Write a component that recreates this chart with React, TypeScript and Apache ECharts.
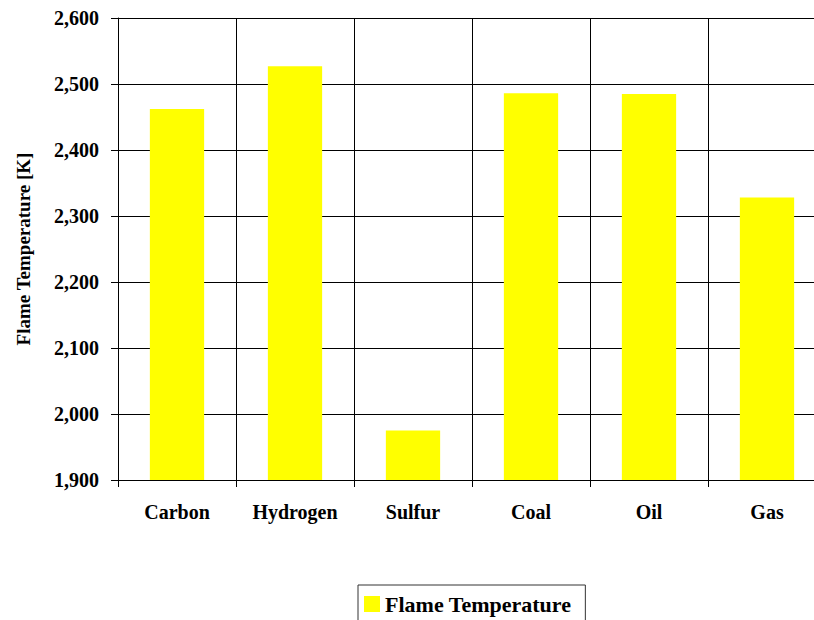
import React, { useEffect, useRef } from "react";
import * as echarts from "echarts";

const categories = ["Carbon", "Hydrogen", "Sulfur", "Coal", "Oil", "Gas"];
const flameTemperature = [2462, 2527, 1975, 2486, 2485, 2328];
const seriesName = "Flame Temperature";
const yAxisName = "Flame Temperature [K]";

const FONT = "'Liberation Serif', 'Times New Roman', serif";

export default function App() {
  const ref = useRef<HTMLDivElement>(null);
  useEffect(() => {
    if (!ref.current) return;
    const chart = echarts.init(ref.current, undefined, { renderer: "svg" });
    chart.setOption({
      animation: false,
      backgroundColor: "#ffffff",
      grid: { left: 118, top: 18, width: 708, height: 462, containLabel: false },
      legend: {
        data: [seriesName],
        left: 358,
        top: 585,
        icon: "rect",
        itemWidth: 16,
        itemHeight: 16,
        itemGap: 6,
        padding: [8, 14, 14, 6],
        borderColor: "#333",
        borderWidth: 1,
        textStyle: { fontFamily: FONT, fontWeight: "bold", fontSize: 22, color: "#000" },
      },
      xAxis: {
        type: "category",
        data: categories,
        axisLine: { lineStyle: { color: "#000", width: 1 } },
        axisTick: { show: true, length: 7, lineStyle: { color: "#000" } },
        splitLine: { show: true, lineStyle: { color: "#000", width: 1 } },
        axisLabel: {
          margin: 22,
          fontFamily: FONT,
          fontWeight: "bold",
          fontSize: 20,
          color: "#000",
        },
      },
      yAxis: {
        type: "value",
        min: 1900,
        max: 2600,
        interval: 100,
        name: yAxisName,
        nameLocation: "middle",
        nameGap: 85,
        nameRotate: 90,
        nameTextStyle: { fontFamily: FONT, fontWeight: "bold", fontSize: 19, color: "#000" },
        axisLine: { show: true, lineStyle: { color: "#000", width: 1 } },
        axisTick: { show: true, length: 7, lineStyle: { color: "#000" } },
        splitLine: { show: true, lineStyle: { color: "#000", width: 1 } },
        axisLabel: {
          margin: 19,
          fontFamily: FONT,
          fontWeight: "bold",
          fontSize: 20,
          color: "#000",
          formatter: (v: number) => v.toLocaleString("en-US"),
        },
      },
      series: [
        {
          name: seriesName,
          type: "bar",
          data: flameTemperature,
          barCategoryGap: "54%",
          itemStyle: { color: "#ffff00" },
        },
      ],
    });
    return () => chart.dispose();
  }, []);
  return (
    <div
      style={{
        position: "fixed",
        left: 0,
        top: 0,
        width: 814,
        height: 620,
        overflow: "hidden",
        background: "#fff",
      }}
    >
      <div ref={ref} style={{ width: 840, height: 620 }} />
    </div>
  );
}
